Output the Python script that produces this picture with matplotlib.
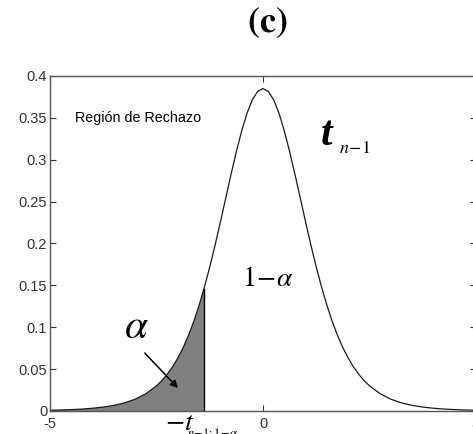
import matplotlib.pyplot as plt
import numpy as np

# Densidad t (mas puntos cerca del centro)
x_vals = [-5.0, -4.75, -4.5, -4.25, -4.0, -3.75, -3.5, -3.25, -3.0, -2.75,
          -2.5, -2.375, -2.25, -2.125, -2.0, -1.875, -1.75, -1.625, -1.5, -1.375,
          -1.25, -1.125, -1.0, -0.875, -0.75, -0.625, -0.5, -0.375, -0.25, -0.125,
          0.0, 0.125, 0.25, 0.375, 0.5, 0.625, 0.75, 0.875, 1.0, 1.125,
          1.25, 1.375, 1.5, 1.625, 1.75, 1.875, 2.0, 2.125, 2.25, 2.375,
          2.5, 2.75, 3.0, 3.25, 3.5, 3.75, 4.0, 4.25, 4.5, 4.75, 5.0]
y_vals = [0.0009, 0.0012, 0.0017, 0.0023, 0.0033, 0.0047, 0.0067, 0.0097, 0.0141, 0.0206,
          0.0300, 0.0362, 0.0437, 0.0526, 0.0632, 0.0756, 0.0902, 0.1070, 0.1263, 0.1480,
          0.1720, 0.1980, 0.2257, 0.2542, 0.2826, 0.3098, 0.3346, 0.3556, 0.3716, 0.3816,
          0.3850, 0.3816, 0.3716, 0.3556, 0.3346, 0.3098, 0.2826, 0.2542, 0.2257, 0.1980,
          0.1720, 0.1480, 0.1263, 0.1070, 0.0902, 0.0756, 0.0632, 0.0526, 0.0437, 0.0362,
          0.0300, 0.0206, 0.0141, 0.0097, 0.0067, 0.0047, 0.0033, 0.0023, 0.0017, 0.0012, 0.0009]

# valor critico y altura de la curva en ese punto
t_crit = -1.385
t_crit_y = 0.146

x_ticks = [-5, 0, 5]
y_ticks = [0, 0.05, 0.1, 0.15, 0.2, 0.25, 0.3, 0.35, 0.4]

plt.rcParams['mathtext.fontset'] = 'stix'

fig = plt.figure(figsize=(4.73, 4.34), dpi=100)
ax = fig.add_axes([50/473, 23/434, 426/473, 335/434])

x = np.array(x_vals)
y = np.array(y_vals)

# region sombreada bajo la cola izquierda
mask = x < t_crit
fx = np.concatenate([x[mask], [t_crit, t_crit, x[0]]])
fy = np.concatenate([y[mask], [t_crit_y, 0, 0]])
ax.fill(fx, fy, color='#808080', lw=0)
ax.plot(x, y, color='#1a1a1a', lw=0.9)
ax.plot([t_crit, t_crit], [0, t_crit_y], color='black', lw=1)

ax.set_xlim(-5, 5)
ax.set_ylim(0, 0.4)
ax.set_xticks(x_ticks)
ax.set_yticks(y_ticks)
ax.set_xticklabels(['-5', '0', '5'])
ax.set_yticklabels(['0', '0.05', '0.1', '0.15', '0.2', '0.25', '0.3', '0.35', '0.4'])
ax.tick_params(direction='in', length=4, width=0.8, top=True, right=True,
               labelsize=10.5, labelcolor='#333333', color='#333333')
ax.tick_params(axis='x', pad=4)
ax.tick_params(axis='y', pad=2)
for lbl in ax.get_xticklabels() + ax.get_yticklabels():
    lbl.set_family('Liberation Sans')
for s in ax.spines.values():
    s.set_color('#555555')
    s.set_linewidth(1)

ax.text(-4.42, 0.35, 'Región de Rechazo', fontsize=10.3, family='Liberation Sans',
        va='center', ha='left')
ax.text(1.5, 0.329, 't', fontsize=30, family='Liberation Serif', weight='bold',
        style='italic', va='center', ha='center')
ax.text(1.78, 0.314, r'$n\!-\!1$', fontsize=13, va='center', ha='left')
ax.text(0.1, 0.159, r'$1\!-\!\alpha$', fontsize=20, va='center', ha='center')
ax.text(-2.98, 0.101, r'$\alpha$', fontsize=30, va='center', ha='center')
ax.annotate('', xy=(-1.95, 0.025), xytext=(-2.82, 0.0716),
            arrowprops=dict(arrowstyle='-|>', color='black', lw=1.1, mutation_scale=11))
# etiqueta del valor critico (cortada por el borde inferior)
ax.text(-2.3, -0.0227, r'$-t$', fontsize=20, va='baseline', ha='left', clip_on=False)
ax.text(-1.78, -0.031, r'$n\!-\!1;1\!-\!\alpha$', fontsize=9, va='baseline', ha='left',
        clip_on=False)

fig.text(267/473, 1 - 23/434, r'$\mathbf{(c)}$', fontsize=26, ha='center', va='center')

fig.savefig('out.png', dpi=100)
